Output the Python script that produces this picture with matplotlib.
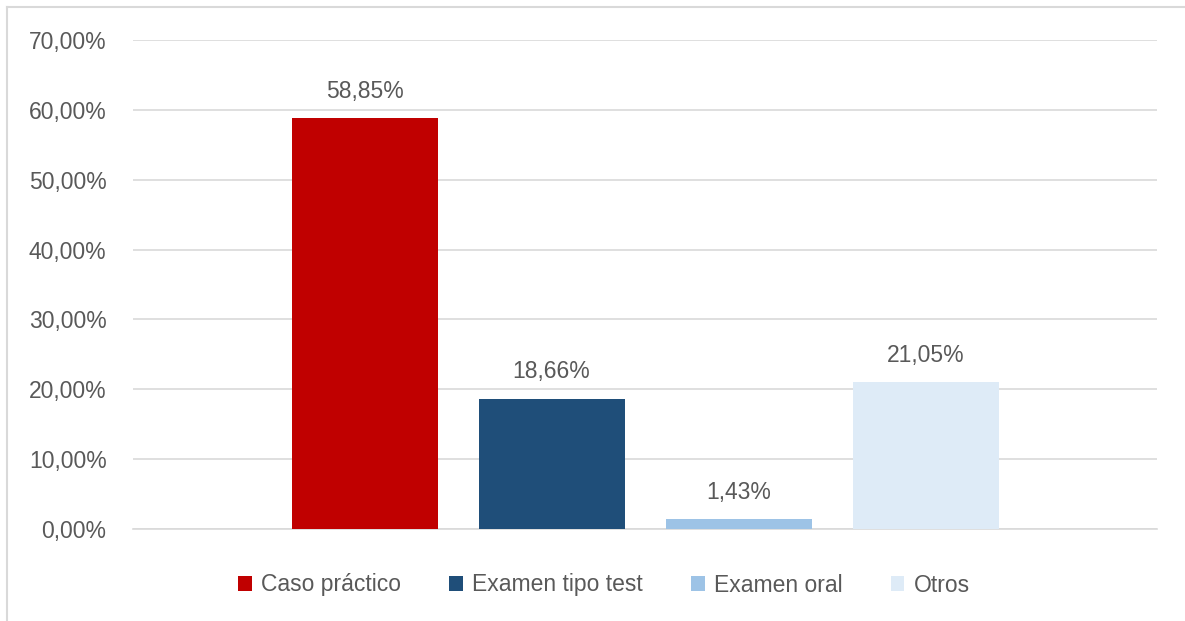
import matplotlib.pyplot as plt
from matplotlib.lines import Line2D
from matplotlib.ticker import FuncFormatter

# datos de la grafica
series = ['Caso práctico', 'Examen tipo test', 'Examen oral', 'Otros']
valores = [58.85, 18.66, 1.43, 21.05]
colores = ['#C00000', '#1F4E79', '#9DC3E6', '#DEEBF7']

plt.rcParams['font.family'] = ['Liberation Sans', 'DejaVu Sans']
gris = '#595959'
fs = 16.5

W, H = 1185, 621
fig = plt.figure(figsize=(W / 100, H / 100), dpi=100)
ax = fig.add_axes([133 / W, 92 / H, (1157 - 133) / W, 489 / H])

ancho = 146 / 1024
paso = 187 / 1024
for i, (nombre, v, c) in enumerate(zip(series, valores, colores)):
    x = (i - 1.5) * paso
    ax.bar(x, v, width=ancho, color=c, label=nombre, zorder=3)
    ax.annotate(f'{v:.2f}%'.replace('.', ','), (x, v), xytext=(0, 11),
                textcoords='offset points', ha='center', va='bottom',
                fontsize=fs, color=gris)

ax.set_xlim(-0.5, 0.5)
ax.set_ylim(0, 70)
ax.set_yticks(range(0, 71, 10))
ax.yaxis.set_major_formatter(FuncFormatter(lambda y, p: f'{y:.2f}%'.replace('.', ',')))
ax.grid(axis='y', color='#D9D9D9', linewidth=1.2, zorder=0)
ax.set_xticks([])
ax.tick_params(axis='y', length=0, pad=19, labelsize=fs, labelcolor=gris)
for s in ['top', 'right', 'left']:
    ax.spines[s].set_visible(False)
ax.spines['bottom'].set_color('#D9D9D9')
ax.spines['bottom'].set_linewidth(1.2)

leg = fig.legend(loc='center', bbox_to_anchor=(604 / W, 1 - 585 / H), ncol=4,
                 frameon=False, fontsize=fs, handlelength=0.6, handleheight=0.6,
                 handletextpad=0.4, columnspacing=2.1)
for t in leg.get_texts():
    t.set_color(gris)

# marco del grafico
fig.add_artist(Line2D([7 / W, 1], [1 - 7 / H, 1 - 7 / H], color='#D9D9D9', linewidth=1.5))
fig.add_artist(Line2D([7 / W, 7 / W], [0, 1 - 7 / H], color='#D9D9D9', linewidth=1.5))

fig.savefig('out.png', dpi=100)
